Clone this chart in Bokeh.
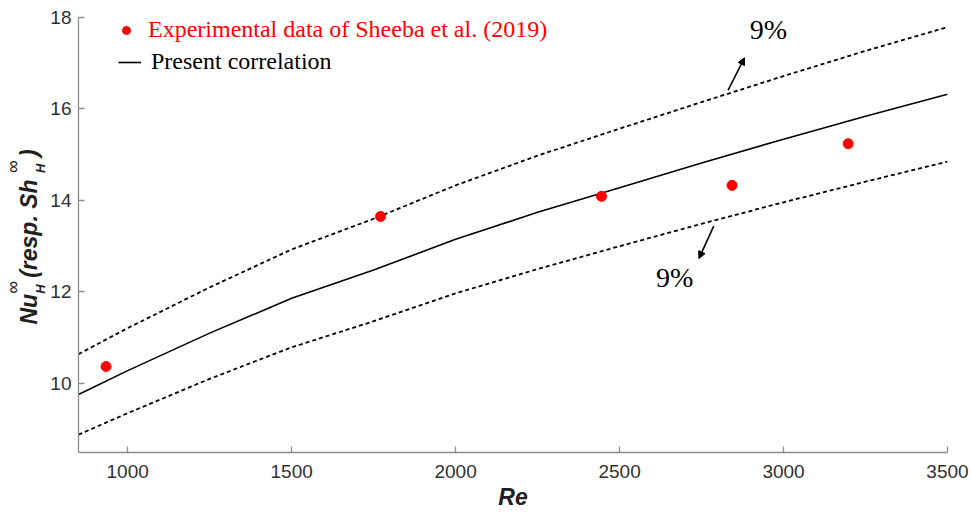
import math
from bokeh.plotting import figure
from bokeh.layouts import row
from bokeh.models import (Range1d, FixedTicker, Label, Legend, LegendItem, Arrow,
                          NormalHead, ColumnDataSource)
from bokeh.embed import file_html
from bokeh.resources import INLINE

# ---- data ----
exp_re = [934, 1771, 2445, 2843, 3197]
exp_nu = [10.37, 13.65, 14.09, 14.33, 15.24]

corr_re = [850, 1000, 1250, 1500, 1750, 2000, 2250, 2500, 2750, 3000, 3250, 3500]
corr_nu = [9.76, 10.28, 11.10, 11.86, 12.48, 13.15, 13.74, 14.28, 14.82, 15.34, 15.84, 16.32]
upper_nu = [10.64, 11.21, 12.10, 12.93, 13.60, 14.33, 14.98, 15.57, 16.15, 16.72, 17.27, 17.79]
lower_nu = [8.88, 9.35, 10.10, 10.79, 11.36, 11.97, 12.50, 13.00, 13.49, 13.96, 14.41, 14.85]

x_ticks = [1000, 1500, 2000, 2500, 3000, 3500]
y_ticks = [10, 12, 14, 16, 18]

exp_label = "Experimental data of Sheeba et al. (2019)"
corr_label = "Present correlation"
band_text = "9%"
x_title = "Re"

SANS = "Liberation Sans"
SERIF = "Liberation Serif"
TXT = "#202020"

TOP, BOTTOM = 17, 60
H = 512

# ---------------- main plot ----------------
p = figure(width=924, height=H, output_backend="svg", toolbar_location=None,
           x_range=Range1d(850, 3500), y_range=Range1d(8.49, 18),
           min_border_left=31, min_border_right=24, min_border_top=TOP, min_border_bottom=BOTTOM)
p.outline_line_color = None
p.xgrid.visible = False
p.ygrid.visible = False

for ax, ticks in ((p.xaxis[0], x_ticks), (p.yaxis[0], y_ticks)):
    ax.ticker = FixedTicker(ticks=ticks)
    ax.minor_tick_line_color = None
    ax.major_tick_in = 6
    ax.major_tick_out = 0
    ax.axis_line_color = "#8c8c8c"
    ax.major_tick_line_color = "#8c8c8c"
    ax.axis_line_width = 1.3
    ax.major_tick_line_width = 1.3
    ax.major_label_text_font = SANS
    ax.major_label_text_font_size = "19px"
    ax.major_label_text_color = "#303030"
p.xaxis.major_label_standoff = 12
p.yaxis.major_label_standoff = 7
p.xaxis.axis_label = x_title
p.xaxis.axis_label_text_font = SANS
p.xaxis.axis_label_text_font_size = "23px"
p.xaxis.axis_label_text_font_style = "bold italic"
p.xaxis.axis_label_text_color = TXT
p.xaxis.axis_label_standoff = 3

src = ColumnDataSource(dict(re=corr_re, nu=corr_nu, up=upper_nu, lo=lower_nu))
r_up = p.line("re", "up", source=src, line_color="black", line_width=1.8, line_dash="4 3")
r_lo = p.line("re", "lo", source=src, line_color="black", line_width=1.8, line_dash="4 3")
r_corr = p.line("re", "nu", source=src, line_color="black", line_width=1.6)
r_exp = p.scatter(exp_re, exp_nu, size=10, color="#ff0000", marker="circle")

leg1 = Legend(items=[LegendItem(label=exp_label, renderers=[r_exp])],
              location=(38, 409), padding=0, margin=0, spacing=0,
              glyph_width=20, glyph_height=20, label_standoff=12,
              label_text_font=SERIF, label_text_font_size="24px",
              label_text_color="#ff0000", background_fill_alpha=0,
              border_line_color=None)
leg2 = Legend(items=[LegendItem(label=corr_label, renderers=[r_corr])],
              location=(40, 377), padding=0, margin=0, spacing=0,
              glyph_width=23, glyph_height=20, label_standoff=10,
              label_text_font=SERIF, label_text_font_size="24px",
              label_text_color="black", background_fill_alpha=0,
              border_line_color=None)
p.add_layout(leg1)
p.add_layout(leg2)

# 9% annotations
p.add_layout(Arrow(end=NormalHead(size=7, fill_color="black", line_color="black"),
                   x_start=2831, y_start=16.41, x_end=2881, y_end=17.12,
                   line_color="black", line_width=1.6))
p.add_layout(Arrow(end=NormalHead(size=7, fill_color="black", line_color="black"),
                   x_start=2787, y_start=13.44, x_end=2742, y_end=12.73,
                   line_color="black", line_width=1.6))
p.add_layout(Label(x=2954, y=17.74, text=band_text, text_font=SERIF, text_font_size="28px",
                   text_align="center", text_baseline="middle", text_color="black"))
p.add_layout(Label(x=2668, y=12.32, text=band_text, text_font=SERIF, text_font_size="28px",
                   text_align="center", text_baseline="middle", text_color="black"))

# ---------------- y axis title strip (page-pixel coordinates, y measured from bottom) ----
lw = 47
t = figure(width=lw, height=H, output_backend="svg", toolbar_location=None,
           x_range=Range1d(0, lw), y_range=Range1d(BOTTOM, H - TOP),
           min_border_left=0, min_border_right=0, min_border_top=TOP, min_border_bottom=BOTTOM,
           x_axis_location=None, y_axis_location=None)
t.outline_line_color = None
t.grid.visible = False

ang = math.pi / 2
cx_main = 28       # centre line of the main text
cx_sup = 12.5      # centre line of superscripts
cx_sub = 39.5      # centre line of subscripts
y0 = H - 324       # start of the text
fs_main = 23
w_nu = 1.333 * fs_main
w_stack = 16.0
w_mid = 4.557 * fs_main

def piece(text, x, y, size, style):
    t.add_layout(Label(x=x, y=y, angle=ang, text=text,
                       text_font=SANS, text_font_size=size, text_font_style=style,
                       text_align="left", text_baseline="middle", text_color=TXT))

piece("Nu", cx_main, y0, f"{fs_main}px", "bold italic")
ys = y0 + w_nu
piece("\u221e", cx_sup, ys, "18px", "normal")
piece("H", cx_sub, ys, "13px", "bold italic")
ym = ys + w_stack
piece(" (resp. Sh", cx_main, ym, f"{fs_main}px", "bold italic")
ys2 = ym + w_mid
piece("\u221e", cx_sup, ys2, "18px", "normal")
piece("H", cx_sub, ys2, "13px", "bold italic")
piece(")", cx_main, ys2 + w_stack, f"{fs_main}px", "bold italic")

layout = row(t, p)
open("out.html", "w").write(file_html(layout, INLINE))
